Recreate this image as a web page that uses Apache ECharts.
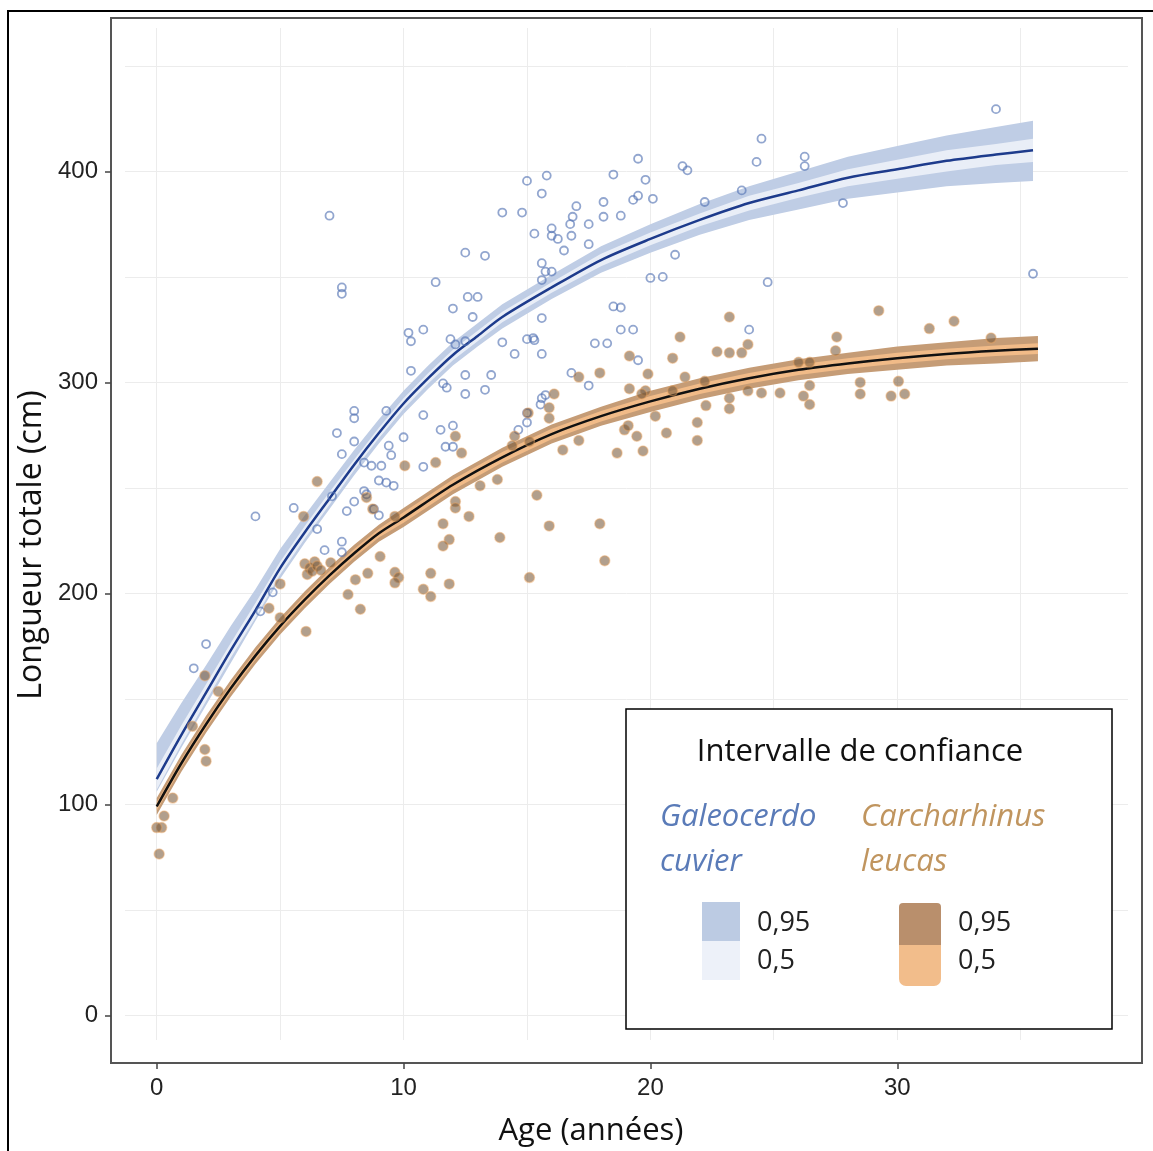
<!DOCTYPE html>
<html>
<head>
<meta charset="utf-8">
<title>Croissance - Galeocerdo cuvier / Carcharhinus leucas</title>
<script src="https://cdn.jsdelivr.net/npm/echarts@6/dist/echarts.min.js"></script>
<style>
  html, body { margin: 0; padding: 0; background: #fff; }
  #chart { width: 1153px; height: 1151px; }
</style>
</head>
<body>
<div id="chart"></div>
<script>
// graduations
const ageTicks = [0, 10, 20, 30]
const lengthTicks = [0, 100, 200, 300, 400]

// Galeocerdo cuvier : observations [âge, longueur totale]
const cuvierObs = [
  [7.0, 379], [12.5, 361.5], [13.3, 360], [7.5, 345], [7.5, 342], [11.3, 347.5], [12.6, 340.5], [13.0, 340.5], [12.0, 335], [12.8, 331],
  [10.2, 323.5], [10.3, 319.5], [10.8, 325], [11.9, 320.5], [12.1, 318], [12.5, 319.5], [10.3, 305.5], [12.5, 303.5], [13.55, 303.5], [11.6, 299.5],
  [11.75, 297.5], [13.3, 296.5], [12.5, 294.5], [8.0, 286.5], [8.0, 283], [9.3, 286.5], [10.8, 284.5], [12.0, 279.5], [11.5, 277.5], [7.3, 276],
  [8.0, 272], [10.0, 274], [9.4, 270], [9.5, 265.5], [11.7, 269.5], [12.0, 269.5], [7.5, 266], [8.7, 260.5], [9.1, 260.5], [10.8, 260],
  [8.4, 262], [9.0, 253.5], [9.3, 252.5], [9.6, 251], [8.4, 248.5], [8.5, 247], [8.0, 243.5], [7.7, 239], [8.8, 240], [9.0, 237],
  [7.1, 246], [5.55, 240.5], [4.0, 236.5], [6.5, 230.5], [7.5, 224.5], [7.5, 219.5], [6.8, 220.5], [4.7, 200.5], [4.2, 191.5], [2.0, 176], [1.5, 164.5],
  [34.0, 429.5], [24.5, 415.5], [24.3, 404.5], [26.25, 407], [26.25, 402.5], [19.5, 406], [21.3, 402.5], [21.5, 400.5], [15.8, 398], [15.0, 395.5],
  [15.6, 389.5], [18.5, 398.5], [19.8, 396], [14.0, 380.5], [14.8, 380.5], [17.0, 383.5], [18.1, 385.5], [19.3, 386.5], [19.5, 388.5], [20.1, 387],
  [16.85, 378.5], [16.75, 375], [18.1, 378.5], [18.8, 379], [17.5, 375], [22.2, 385.5], [23.7, 391], [16.0, 373], [16.0, 369.5], [16.25, 368],
  [15.3, 370.5], [16.8, 369.5], [16.5, 362.5], [17.5, 365.5], [15.6, 356.5], [15.75, 352.5], [16.0, 352.5], [15.6, 348.5], [21.0, 360.5], [20.0, 349.5],
  [20.5, 350], [24.75, 347.5], [27.8, 385], [35.5, 351.5], [18.5, 336], [18.8, 335.5], [15.6, 330.5], [18.8, 325], [19.3, 325], [24.0, 325],
  [15.0, 320.5], [15.25, 321], [15.3, 320], [14.0, 319], [17.75, 318.5], [18.25, 318.5], [14.5, 313.5], [15.6, 313.5], [19.5, 310.5], [16.8, 304.5],
  [17.5, 298.5], [15.6, 292.5], [15.75, 294], [15.55, 289.5], [15.0, 285.5], [15.0, 281], [14.65, 277.5]
]

// Carcharhinus leucas : observations [âge, longueur totale]
const leucasObs = [
  [12.1, 274.5], [12.35, 266.5], [11.3, 262], [10.05, 260.5], [6.5, 253], [5.95, 236.5], [8.5, 245.5], [8.75, 240], [9.65, 236.5], [12.1, 243.5],
  [12.1, 240.5], [12.65, 236.5], [11.6, 233], [11.85, 225.5], [11.6, 222.5], [13.1, 251], [13.8, 254], [13.9, 226.5],
  [6.0, 214], [6.2, 212], [6.4, 215], [6.1, 209], [6.3, 210.5], [6.5, 213], [6.65, 211], [7.05, 214.5],
  [5.0, 204.5], [4.55, 193], [5.0, 188.5], [6.05, 182], [8.05, 206.5], [7.75, 199.5], [8.25, 192.5], [8.55, 209.5], [9.05, 217.5],
  [9.65, 210], [9.8, 207.5], [9.65, 205], [11.1, 209.5], [10.8, 202], [11.1, 198.5], [11.85, 204.5],
  [2.5, 153.5], [1.95, 161], [1.45, 137], [1.95, 126], [2.0, 120.5], [0.3, 94.5], [0.2, 89], [0.0, 89], [0.65, 103], [0.1, 76.5],
  [23.2, 331], [29.25, 334], [31.3, 325.5], [32.3, 329], [33.8, 321], [21.2, 321.5], [27.55, 321.5], [27.5, 315], [22.7, 314.5], [23.2, 314],
  [23.7, 314], [23.95, 318], [19.15, 312.5], [20.9, 311.5], [19.9, 304], [17.95, 304.5], [17.1, 302.5], [21.4, 302.5], [22.2, 300.5], [26.0, 309.5],
  [26.45, 309.5], [28.5, 300], [30.05, 300.5], [28.5, 294.5], [29.75, 293.5], [30.3, 294.5], [26.45, 298.5], [26.2, 293.5], [26.45, 289.5], [25.25, 295],
  [24.5, 295], [23.95, 296], [23.2, 292.5], [23.2, 287.5], [22.25, 289], [21.9, 281], [21.9, 272.5], [20.9, 296], [20.65, 276], [20.2, 284],
  [19.8, 296], [19.65, 294.5], [19.15, 297], [19.45, 274.5], [19.7, 267.5], [18.95, 277.5], [19.1, 279.5], [18.65, 266.5], [17.1, 272.5], [16.45, 268],
  [16.1, 294.5], [15.9, 288], [15.9, 283], [15.05, 285.5], [15.1, 272], [14.5, 274.5], [14.4, 270], [15.4, 246.5], [15.9, 232], [17.95, 233],
  [18.15, 215.5], [15.1, 207.5]
]

// courbes ajustées et intervalles
const cuvierAges = [0, 1, 2, 3, 4, 5, 6, 7, 8, 9, 10, 11, 12, 13, 14, 16, 18, 20, 22, 24, 26, 28, 30, 32, 34, 35.5]
const cuvierFit  = [112, 133, 153, 173, 192, 212, 229, 245, 261, 276, 290, 302, 313, 322, 331, 345, 358, 368, 377, 385, 391, 397, 401, 405, 408, 410]
const cuvierHi95 = [129, 148, 166, 184.5, 202, 221, 237, 252.5, 268, 282.5, 296, 308, 319, 328, 337, 351, 364.5, 375, 384.5, 393, 400, 407, 412, 417, 421, 424]
const cuvierLo95 = [106, 127, 147, 167, 187, 207, 224, 240, 256, 271, 285, 297, 308, 317, 325.5, 339.5, 352, 361.5, 370, 377, 382, 387, 390, 393, 394.5, 395.5]
const cuvierHi50 = [117, 137.5, 157, 176.5, 195.5, 215, 232, 248, 263.5, 278.5, 292.5, 304.5, 315.5, 324.5, 333.5, 347.5, 361, 371, 380, 388.5, 394.5, 401, 405.5, 410, 413, 415.5]
const cuvierLo50 = [107, 128.5, 149, 169.5, 188.5, 209, 226, 242, 258.5, 273.5, 287.5, 299.5, 310.5, 319.5, 328.5, 342.5, 355, 365, 374, 381.5, 387.5, 393, 396.5, 400, 403, 404.5]

const leucasAges = [0, 1, 2, 3, 4, 5, 6, 7, 8, 9, 10, 12, 14, 16, 18, 20, 22, 24, 26, 28, 30, 32, 34, 35.7]
const leucasFit  = [99, 119.5, 138, 155, 170.5, 184.5, 197, 208.5, 219, 228.5, 236, 251.5, 264.5, 275.5, 284, 291, 297, 302, 306, 309, 311.5, 313.5, 315, 316]
const leucasHi95 = [103, 123.5, 142, 159, 174.5, 188.5, 201, 212.5, 223, 232.5, 240.5, 256, 269, 280, 288.5, 296, 302, 307, 311, 314, 317, 319, 321, 322]
const leucasLo95 = [95, 115.5, 134, 151, 166.5, 180.5, 193, 204.5, 215, 224.5, 231.5, 247, 260, 271, 279.5, 286, 292, 297, 301, 304, 306, 308, 309, 310]
const leucasHi50 = [101, 121.5, 140, 157, 172.5, 186.5, 199, 210.5, 221, 230.5, 238.5, 254, 267, 278, 286.5, 293.5, 299.5, 304.5, 308.5, 311.5, 314, 316, 317.5, 318.5]
const leucasLo50 = [97, 117.5, 136, 153, 168.5, 182.5, 195, 206.5, 217, 226.5, 233.5, 249, 262, 273, 281.5, 288.5, 294.5, 299.5, 303.5, 306.5, 309, 311, 312.5, 313.5]

const chart = echarts.init(document.getElementById('chart'))

const txtFont = '"Open Sans", "Noto Sans", sans-serif'
const numFont = '"Liberation Sans", Arial, sans-serif'
const gridColor = '#ececec'

// bande de confiance : un polygone (haut puis bas) placé avec api.coord
const band = (ages, lo, hi, color, z) => ({
  type: 'custom', silent: true, z: z,
  data: ages.map((a, i) => [a, lo[i], hi[i]]),
  encode: { x: 0, y: [1, 2] },
  renderItem: (params, api) => {
    if (params.dataIndex !== 0) return null
    const top = ages.map((a, i) => api.coord([a, hi[i]]))
    const bottom = ages.map((a, i) => api.coord([a, lo[i]])).reverse()
    return {
      type: 'polygon',
      shape: { points: top.concat(bottom) },
      style: { fill: color }
    }
  }
})

const legendItem = (el) => Object.assign({ z: 100 }, el)

const option = {
  animation: false,
  backgroundColor: '#fff',
  grid: [
    // panneau principal (données, cadre, graduations)
    { left: 111, top: 18, width: 1031, height: 1045, show: true, borderColor: '#555', borderWidth: 2,
      backgroundColor: 'transparent', containLabel: false, outerBoundsMode: 'none' },
    // zone du quadrillage, légèrement en retrait
    { left: 125, top: 28, width: 1003, height: 1012, show: false, containLabel: false, outerBoundsMode: 'none' }
  ],
  xAxis: [
    {
      type: 'value', gridIndex: 0, min: -1.852, max: 39.915, position: 'bottom',
      axisLine: { show: false, onZero: false },
      axisTick: { show: true, customValues: ageTicks, length: 6, lineStyle: { color: '#444', width: 1.5 } },
      axisLabel: { customValues: ageTicks, margin: 13, fontFamily: numFont, fontSize: 24, color: '#222' },
      splitLine: { show: false }
    },
    {
      type: 'value', gridIndex: 1, min: -1.285, max: 39.36, splitNumber: 4,
      axisLine: { show: false, onZero: false }, axisTick: { show: false }, axisLabel: { show: false },
      splitLine: { show: true, showMinLine: false, showMaxLine: false, lineStyle: { color: gridColor, width: 1 } },
      minorTick: { show: false, splitNumber: 2 },
      minorSplitLine: { show: true, lineStyle: { color: gridColor, width: 1 } }
    }
  ],
  yAxis: [
    {
      type: 'value', gridIndex: 0, min: -22.56, max: 472.7, position: 'left',
      axisLine: { show: false, onZero: false },
      axisTick: { show: true, customValues: lengthTicks, length: 6, lineStyle: { color: '#444', width: 1.5 } },
      axisLabel: { customValues: lengthTicks, margin: 13, fontFamily: numFont, fontSize: 24, color: '#222' },
      splitLine: { show: false }
    },
    {
      type: 'value', gridIndex: 1, min: -11.52, max: 468.1, splitNumber: 5,
      axisLine: { show: false, onZero: false }, axisTick: { show: false }, axisLabel: { show: false },
      splitLine: { show: true, showMinLine: false, showMaxLine: false, lineStyle: { color: gridColor, width: 1 } },
      minorTick: { show: false, splitNumber: 2 },
      minorSplitLine: { show: true, lineStyle: { color: gridColor, width: 1 } }
    }
  ],
  series: [
    band(cuvierAges, cuvierLo95, cuvierHi95, '#bfcde5', 2),
    band(cuvierAges, cuvierLo50, cuvierHi50, '#e9eef7', 3),
    band(leucasAges, leucasLo95, leucasHi95, '#c59c76', 2),
    band(leucasAges, leucasLo50, leucasHi50, '#f1bb88', 3),
    {
      name: 'Galeocerdo cuvier', type: 'line', symbol: 'none', smooth: 0.3, z: 4, silent: true,
      lineStyle: { color: '#1d3b8c', width: 2.5 },
      data: cuvierAges.map((a, i) => [a, cuvierFit[i]])
    },
    {
      name: 'Carcharhinus leucas', type: 'line', symbol: 'none', smooth: 0.3, z: 4, silent: true,
      lineStyle: { color: '#111', width: 2.5 },
      data: leucasAges.map((a, i) => [a, leucasFit[i]])
    },
    {
      type: 'scatter', symbol: 'circle', symbolSize: 8, z: 5,
      itemStyle: { color: 'rgba(0,0,0,0)', borderColor: 'rgba(85,115,180,0.8)', borderWidth: 1.8 },
      data: cuvierObs
    },
    {
      type: 'scatter', symbol: 'circle', symbolSize: 10, z: 5,
      itemStyle: { color: 'rgba(120,88,58,0.72)', borderColor: 'rgba(235,165,95,0.55)', borderWidth: 1.5 },
      data: leucasObs
    }
  ],
  graphic: [
    // cadre extérieur de la figure
    { type: 'rect', silent: true, z: 0, shape: { x: 8, y: 11, width: 1200, height: 1200 },
      style: { fill: 'none', stroke: '#000', lineWidth: 2 } },
    // titres des axes
    { type: 'text', x: 591, y: 1131, z: 10,
      style: { text: 'Age (années)', font: '31px ' + txtFont, fill: '#111', align: 'center', verticalAlign: 'middle' } },
    { type: 'text', x: 32, y: 545, rotation: Math.PI / 2, z: 10,
      style: { text: 'Longueur totale (cm)', font: '32px ' + txtFont, fill: '#111', align: 'center', verticalAlign: 'middle' } },
    // légende
    legendItem({ type: 'rect', shape: { x: 626, y: 709, width: 486, height: 320 },
      style: { fill: '#fff', stroke: '#000', lineWidth: 1.5 } }),
    legendItem({ type: 'text', x: 860, y: 752,
      style: { text: 'Intervalle de confiance', font: '31px ' + txtFont, fill: '#111', align: 'center', verticalAlign: 'middle' } }),
    legendItem({ type: 'text', x: 660, y: 817,
      style: { text: 'Galeocerdo', font: 'italic 31px ' + txtFont, fill: '#5a7bb8', verticalAlign: 'middle' } }),
    legendItem({ type: 'text', x: 660, y: 862,
      style: { text: 'cuvier', font: 'italic 31px ' + txtFont, fill: '#5a7bb8', verticalAlign: 'middle' } }),
    legendItem({ type: 'text', x: 861, y: 817,
      style: { text: 'Carcharhinus', font: 'italic 31px ' + txtFont, fill: '#c0955f', verticalAlign: 'middle' } }),
    legendItem({ type: 'text', x: 861, y: 862,
      style: { text: 'leucas', font: 'italic 31px ' + txtFont, fill: '#c0955f', verticalAlign: 'middle' } }),
    legendItem({ type: 'rect', shape: { x: 702, y: 902, width: 38, height: 39 }, style: { fill: '#bccbe3' } }),
    legendItem({ type: 'rect', shape: { x: 702, y: 941, width: 38, height: 39 }, style: { fill: '#edf1f9' } }),
    legendItem({ type: 'rect', shape: { x: 899, y: 903, width: 42, height: 42, r: [4, 4, 0, 0] }, style: { fill: '#b98f6c' } }),
    legendItem({ type: 'rect', shape: { x: 899, y: 945, width: 42, height: 41, r: [0, 0, 7, 7] }, style: { fill: '#f2bd8b' } }),
    legendItem({ type: 'text', x: 757, y: 923,
      style: { text: '0,95', font: '27px ' + txtFont, fill: '#222', verticalAlign: 'middle' } }),
    legendItem({ type: 'text', x: 757, y: 961,
      style: { text: '0,5', font: '27px ' + txtFont, fill: '#222', verticalAlign: 'middle' } }),
    legendItem({ type: 'text', x: 958, y: 923,
      style: { text: '0,95', font: '27px ' + txtFont, fill: '#222', verticalAlign: 'middle' } }),
    legendItem({ type: 'text', x: 958, y: 961,
      style: { text: '0,5', font: '27px ' + txtFont, fill: '#222', verticalAlign: 'middle' } })
  ]
}

chart.setOption(option)
</script>
</body>
</html>
